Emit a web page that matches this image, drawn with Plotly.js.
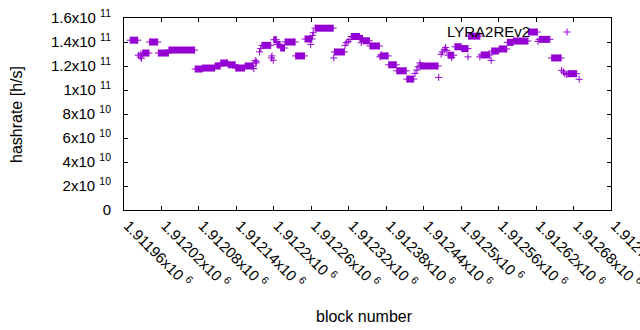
<!DOCTYPE html>
<html><head><meta charset="utf-8">
<script src="https://cdn.plot.ly/plotly-3.0.1.min.js"></script>
<style>html,body{margin:0;padding:0;background:#fff}#chart{width:640px;height:330px}</style>
</head><body><div id="chart"></div>
<script>
// Series name (key)
const seriesName = "LYRA2REv2";

// Runs of consecutive blocks sharing one hashrate value (first block, last block, h/s)
const runStart = [1911970,1911990,1912001,1912015,1912032,1912074,1912086,1912106,1912115,1912127,1912139,1912154,1912181,1912200,1912205,1912211,1912218,1912235,1912250,1912266,1912297,1912324,1912338,1912343,1912354,1912371,1912384,1912397,1912413,1912434,1912479,1912490,1912501,1912512,1912532,1912549,1912561,1912574,1912584,1912608,1912625,1912645,1912671];
const runEnd   = [1911982,1912000,1912014,1912031,1912073,1912085,1912105,1912114,1912126,1912138,1912153,1912167,1912195,1912204,1912210,1912217,1912234,1912249,1912261,1912295,1912313,1912337,1912342,1912353,1912369,1912383,1912396,1912412,1912424,1912463,1912488,1912500,1912511,1912530,1912546,1912560,1912573,1912583,1912607,1912622,1912642,1912660,1912685];
const runHashrate = [1.415e11,1.308e11,1.400e11,1.308e11,1.333e11,1.175e11,1.183e11,1.200e11,1.225e11,1.210e11,1.183e11,1.200e11,1.372e11,1.419e11,1.380e11,1.350e11,1.400e11,1.284e11,1.425e11,1.515e11,1.317e11,1.446e11,1.430e11,1.410e11,1.367e11,1.284e11,1.210e11,1.160e11,1.091e11,1.200e11,1.290e11,1.360e11,1.345e11,1.449e11,1.292e11,1.325e11,1.342e11,1.397e11,1.408e11,1.483e11,1.422e11,1.267e11,1.136e11];

// Isolated blocks
const pointBlock = [1911983,1911986,1911987,1911988,1912168,1912170,1912171,1912172,1912177,1912179,1912196,1912197,1912199,1912259,1912262,1912263,1912296,1912314,1912316,1912319,1912322,1912340,1912370,1912372,1912426,1912429,1912431,1912434,1912464,1912468,1912470,1912473,1912475,1912477,1912485,1912511,1912530,1912548,1912623,1912661,1912664,1912666,1912669,1912689];
const pointHashrate = [1.290e11,1.275e11,1.300e11,1.265e11,1.178e11,1.245e11,1.225e11,1.235e11,1.318e11,1.345e11,1.267e11,1.284e11,1.248e11,1.380e11,1.455e11,1.477e11,1.267e11,1.372e11,1.394e11,1.405e11,1.420e11,1.394e11,1.276e11,1.295e11,1.138e11,1.166e11,1.193e11,1.226e11,1.105e11,1.298e11,1.317e11,1.336e11,1.353e11,1.330e11,1.270e11,1.276e11,1.276e11,1.247e11,1.405e11,1.164e11,1.150e11,1.136e11,1.128e11,1.089e11];

// Axis ticks
const xTickValues = [1911960,1912020,1912080,1912140,1912200,1912260,1912320,1912380,1912440,1912500,1912560,1912620,1912680,1912740];
const xTickLabels = ["1.91196x10 <sup>6</sup>","1.91202x10 <sup>6</sup>","1.91208x10 <sup>6</sup>","1.91214x10 <sup>6</sup>","1.9122x10 <sup>6</sup>","1.91226x10 <sup>6</sup>","1.91232x10 <sup>6</sup>","1.91238x10 <sup>6</sup>","1.91244x10 <sup>6</sup>","1.9125x10 <sup>6</sup>","1.91256x10 <sup>6</sup>","1.91262x10 <sup>6</sup>","1.91268x10 <sup>6</sup>","1.91274x10 <sup>6</sup>"];
const yTickValues = [0,2e10,4e10,6e10,8e10,1e11,1.2e11,1.4e11,1.6e11];
const yTickLabels = ["0","2x10 <sup>10</sup>","4x10 <sup>10</sup>","6x10 <sup>10</sup>","8x10 <sup>10</sup>","1x10 <sup>11</sup>","1.2x10 <sup>11</sup>","1.4x10 <sup>11</sup>","1.6x10 <sup>11</sup>"];

const COLOR = "#9400d3";
const FONT = "'Liberation Sans', Arial, sans-serif";

// Runs drawn as a band (the merged crosses) with crosses at both ends
const runX = [], runY = [], endX = [], endY = [];
for (let i = 0; i < runStart.length; i++) {
  runX.push(runStart[i], runEnd[i], null);
  runY.push(runHashrate[i], runHashrate[i], null);
  endX.push(runStart[i], runEnd[i]);
  endY.push(runHashrate[i], runHashrate[i]);
}
const crossMarker = {symbol: "cross-thin-open", size: 5, color: COLOR, line: {color: COLOR, width: 1}};

const traces = [
  {x: runX, y: runY, type: "scatter", mode: "lines", line: {color: COLOR, width: 7}, connectgaps: false, hoverinfo: "skip", showlegend: false},
  {x: endX, y: endY, type: "scatter", mode: "markers", marker: crossMarker, showlegend: false},
  {x: pointBlock, y: pointHashrate, type: "scatter", mode: "markers", marker: crossMarker, name: seriesName, showlegend: false}
];

const L = 124, R = 29, T = 18, B = 120, W = 640, H = 330;
const PW = W - L - R, PH = H - T - B;
const px = v => (v - L) / PW, py = v => (H - B - v) / PH;

const axisCommon = {
  showline: true, linecolor: "#000", linewidth: 1, mirror: "ticks",
  ticks: "inside", ticklen: 4, tickcolor: "#000", tickwidth: 1,
  showgrid: false, zeroline: false, tickmode: "array",
  tickfont: {family: FONT, size: 15, color: "#000"}
};

const layout = {
  width: W, height: H, autosize: false,
  margin: {l: L, r: R, t: T, b: B, pad: 0},
  paper_bgcolor: "#fff", plot_bgcolor: "#fff",
  showlegend: false,
  xaxis: Object.assign({}, axisCommon, {range: [1911960, 1912740], tickvals: xTickValues, ticktext: xTickLabels, tickangle: 45, ticklabelstandoff: 0, ticklabelshift: 4, ticklabeloverflow: "allow"}),
  yaxis: Object.assign({}, axisCommon, {range: [0, 1.6e11], tickvals: yTickValues, ticktext: yTickLabels, ticklabelstandoff: 9}),
  annotations: [
    {text: "hashrate [h/s]", xref: "paper", yref: "paper", x: px(17), y: py(115), textangle: -90, showarrow: false, xanchor: "center", yanchor: "middle", font: {family: FONT, size: 16, color: "#000"}},
    {text: "block number", xref: "paper", yref: "paper", x: px(364), y: py(316), showarrow: false, xanchor: "center", yanchor: "middle", font: {family: FONT, size: 16, color: "#000"}},
    {text: seriesName, xref: "paper", yref: "paper", x: px(532), y: py(32), showarrow: false, xanchor: "right", yanchor: "middle", font: {family: FONT, size: 15, color: "#000"}}
  ],
  shapes: [
    {type: "line", xref: "paper", yref: "paper", xsizemode: "pixel", ysizemode: "pixel", xanchor: px(567), yanchor: py(32), x0: -3.5, x1: 3.5, y0: 0, y1: 0, line: {color: COLOR, width: 1}},
    {type: "line", xref: "paper", yref: "paper", xsizemode: "pixel", ysizemode: "pixel", xanchor: px(567), yanchor: py(32), x0: 0, x1: 0, y0: -3.5, y1: 3.5, line: {color: COLOR, width: 1}}
  ]
};

Plotly.newPlot("chart", traces, layout, {staticPlot: true, displayModeBar: false});
</script>
</body></html>
